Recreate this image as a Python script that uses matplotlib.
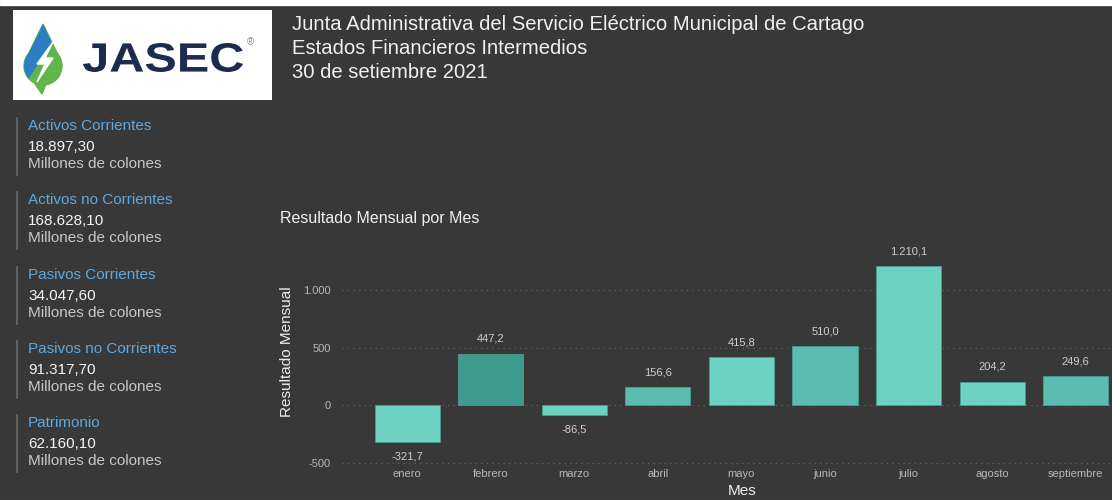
import matplotlib.pyplot as plt
from matplotlib.patches import Rectangle, Polygon, Circle, PathPatch
from matplotlib.lines import Line2D
from matplotlib.textpath import TextPath
from matplotlib.font_manager import FontProperties
from matplotlib.transforms import Affine2D

plt.rcParams['font.family'] = ['Liberation Sans', 'DejaVu Sans']

meses = ['enero', 'febrero', 'marzo', 'abril', 'mayo', 'junio', 'julio', 'agosto', 'septiembre']
resultado = [-321.7, 447.2, -86.5, 156.6, 415.8, 510.0, 1210.1, 204.2, 249.6]
colores = ['#6dd3c0', '#3e9b8d', '#6dd3c0', '#5bbdb0', '#6dd3c0', '#5bbdb0', '#6dd3c0', '#6dd3c0', '#5bbdb0']

kpi_nombres = ['Activos Corrientes', 'Activos no Corrientes', 'Pasivos Corrientes',
               'Pasivos no Corrientes', 'Patrimonio']
kpi_valores = ['18.897,30', '168.628,10', '34.047,60', '91.317,70', '62.160,10']

titulos = ['Junta Administrativa del Servicio Eléctrico Municipal de Cartago',
           'Estados Financieros Intermedios',
           '30 de setiembre 2021']

BG = '#383838'
W, H = 1112, 500

fig = plt.figure(figsize=(W / 100, H / 100), dpi=100, facecolor=BG)


def fx(px):
    return px / W


def fy(py):
    return 1 - py / H


# thin white strip along the top edge
fig.add_artist(Rectangle((0, fy(5)), 1, 5 / H, transform=fig.transFigure, color='white'))

# logo box (1 data unit = 1 pixel)
logo = fig.add_axes([fx(13), fy(100), fx(259), (100 - 10) / H])
logo.set_xlim(0, 259)
logo.set_ylim(0, 90)
logo.set_facecolor('white')
logo.set_xticks([])
logo.set_yticks([])
for s in logo.spines.values():
    s.set_visible(False)

# droplet: green body, blue upper-left part clipped to the drop
drop_c = Circle((30, 34), 19, color='#62b54a')
drop_t = Polygon([(11.5, 38), (30, 76), (48.5, 38)], color='#62b54a')
logo.add_patch(drop_c)
logo.add_patch(drop_t)
blue1 = Polygon([(5, 20), (5, 80), (40, 80), (40, 58), (27, 40), (14, 20)], color='#2c7dc4')
blue2 = Polygon([(5, 20), (5, 80), (40, 80), (40, 58), (27, 40), (14, 20)], color='#2c7dc4')
logo.add_patch(blue1)
logo.add_patch(blue2)
blue1.set_clip_path(drop_c)
blue2.set_clip_path(drop_t)
logo.add_patch(Polygon([(22, 16), (29, 6), (33, 16)], color='#62b54a'))
logo.add_patch(Polygon([(40, 58), (24, 36), (32, 36), (24, 18), (40, 42), (32, 42)], color='white'))

# JASEC wordmark stretched to the box it fills in the reference
tp = TextPath((0, 0), 'JASEC', size=30, prop=FontProperties(family='Liberation Sans', weight='bold'))
bb = tp.get_extents()
tr = Affine2D().translate(-bb.x0, -bb.y0).scale(160 / bb.width, 29 / bb.height).translate(70, 28)
logo.add_patch(PathPatch(tr.transform_path(tp), color='#1d2b50', lw=0))
logo.text(234, 58, '®', fontsize=7, color='#888888', va='center', ha='left')

# header
for i, t in enumerate(titulos):
    fig.text(fx(292), fy(24 + 24 * i), t, fontsize=14.6, color='#f0f0f0', va='center', ha='left')

# KPI cards
for i, (n, v) in enumerate(zip(kpi_nombres, kpi_valores)):
    y0 = 125 + 74.3 * i
    fig.add_artist(Line2D([fx(17), fx(17)], [fy(y0 - 7), fy(y0 + 50)], color='#6a6a6a', lw=1.2))
    fig.text(fx(28), fy(y0 + 1), n, fontsize=11, color='#5ea9e0', va='center', ha='left')
    fig.text(fx(28), fy(y0 + 22), v, fontsize=11, color='#f4f4f4', va='center', ha='left')
    fig.text(fx(28), fy(y0 + 39), 'Millones de colones', fontsize=11, color='#c8c8c8', va='center', ha='left')

fig.text(fx(280), fy(218), 'Resultado Mensual por Mes', fontsize=11.5, color='#f0f0f0', va='center', ha='left')

# chart
ax = fig.add_axes([fx(342), fy(466), fx(1110 - 342), (466 - 244) / H])
ax.set_facecolor(BG)
x = list(range(len(meses)))
bars = ax.bar(x, resultado, width=0.78, color=colores, edgecolor='#4a9e92', linewidth=0.6, zorder=3)
ax.set_xlim(-0.78, 8.41)
ax.set_ylim(-530, 1400)
ax.set_yticks([-500, 0, 500, 1000])
ax.set_yticklabels(['-500', '0', '500', '1.000'])
ax.set_xticks(x)
ax.set_xticklabels(meses)
ax.tick_params(axis='both', length=0, colors='#b8b8b8', labelsize=8)
ax.tick_params(axis='y', pad=8)
ax.tick_params(axis='x', pad=2)
ax.grid(axis='y', linestyle=(0, (1, 4)), color='#6a6a6a', linewidth=0.8, zorder=0)
for s in ax.spines.values():
    s.set_visible(False)

for b, v in zip(bars, resultado):
    txt = f'{v:,.1f}'.replace(',', 'X').replace('.', ',').replace('X', '.')
    if v >= 0:
        ax.annotate(txt, (b.get_x() + b.get_width() / 2, v), xytext=(0, 7), textcoords='offset points',
                    ha='center', va='bottom', fontsize=8, color='#cfcfcf')
    else:
        ax.annotate(txt, (b.get_x() + b.get_width() / 2, v), xytext=(0, -7), textcoords='offset points',
                    ha='center', va='top', fontsize=8, color='#cfcfcf')

fig.text(fx(287), fy(352), 'Resultado Mensual', rotation=90, fontsize=11, color='#eeeeee', va='center', ha='center')
fig.text(fx(742), fy(491), 'Mes', fontsize=11, color='#eeeeee', va='center', ha='center')

fig.savefig('out.png', dpi=100, facecolor=BG)
